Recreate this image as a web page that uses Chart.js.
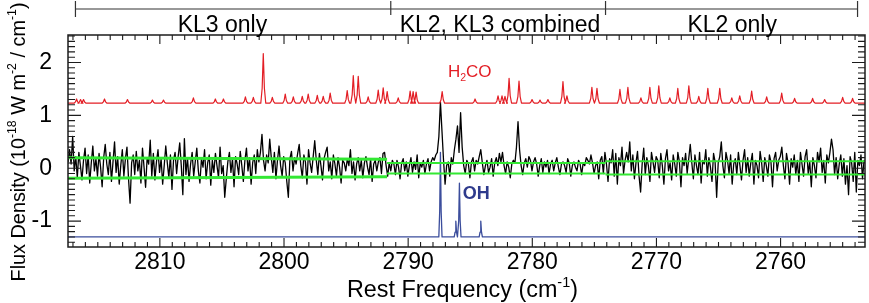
<!DOCTYPE html>
<html>
<head>
<meta charset="utf-8">
<script src="https://cdn.jsdelivr.net/npm/chart.js@4.4.1/dist/chart.umd.min.js"></script>
<style>
html,body{margin:0;padding:0;background:#fff;}
#wrap{width:869px;height:303px;position:relative;}
canvas{display:block;}
</style>
</head>
<body>
<div id="wrap"><canvas id="c" width="869" height="303"></canvas></div>
<script>
// ---------------- data ----------------
const xTickValues = [2810, 2800, 2790, 2780, 2770, 2760];
const yTickValues = [-1, 0, 1, 2];
const xRange = [2753.2, 2817.4];
const yRange = [-1.49, 2.52];

// observed spectrum (flux density, 1e-18 W m^-2 / cm^-1), sampled every 0.125 cm^-1 from 2817.4 downward
const specFreqStart = 2817.4;
const specFreqStep = 0.125;
const specFlux = [
 0.12, 0.35, 0.08, 0.60,-0.05, 0.22,-0.18, 0.30, 0.05,-0.22,
 0.15, 0.38,-0.10, 0.25,-0.28, 0.10, 0.42,-0.05, 0.18,-0.15,
 0.28, 0.02,-0.35, 0.20, 0.45, 0.08,-0.12, 0.30,-0.25, 0.12,
 0.50,-0.08, 0.22,-0.30, 0.05, 0.35,-0.15, 0.18, 0.40,-0.20,
-0.66, 0.10, 0.25,-0.12, 0.32,-0.05, 0.15,-0.28, 0.38, 0.02,
-0.36, 0.20, 0.08, 0.53,-0.15, 0.28,-0.22, 0.12, 0.35,-0.08,
 0.18,-0.30, 0.05, 0.42, 0.10,-0.18, 0.25,-0.40, 0.15, 0.30,
-0.10, 0.22, 0.48, 0.05,-0.50, 0.56,-0.12, 0.20,-0.25, 0.08,
 0.30,-0.15, 0.12, 0.38,-0.05,-0.28, 0.18, 0.02, 0.35,-0.20,
 0.10, 0.25,-0.32, 0.15,-0.08, 0.28, 0.05,-0.18, 0.40,-0.10,
 0.05,-0.55,-0.20, 0.12, 0.30,-0.08, 0.18,-0.35, 0.22, 0.08,
-0.12, 0.32, 0.05,-0.25, 0.15, 0.38,-0.05, 0.20,-0.30, 0.10,
 0.25,-0.10, 0.35, 0.12, 0.30, 0.64, 0.15,-0.05, 0.25, 0.10,
 0.55, 0.20,-0.08, 0.30,-0.20, 0.15, 0.42, 0.05,-0.15, 0.22,
 0.10,-0.25,-0.55, 0.18, 0.32,-0.05, 0.20, 0.08, 0.28, 0.45,
 0.05,-0.18, 0.25, 0.12,-0.30, 0.35, 0.10,-0.08, 0.22, 0.52,
 0.15,-0.12, 0.28, 0.05,-0.22, 0.18, 0.30, 0.40,-0.05, 0.12,
-0.20, 0.25, 0.08,-0.15, 0.20, 0.02,-0.28, 0.15, 0.10,-0.05,
 0.18, 0.05, 0.35,-0.10, 0.12,-0.22, 0.08, 0.20,-0.05, 0.15,
-0.18, 0.10, 0.22, 0.02,-0.12, 0.18,-0.25, 0.08, 0.15,-0.05,
 0.12, 0.20,-0.10, 0.28, 0.30, 0.05,-0.15, 0.10,-0.05, 0.15,
 0.08,-0.12, 0.15, 0.02,-0.20, 0.10, 0.18,-0.05, 0.12,-0.15,
 0.05, 0.20,-0.08, 0.12,-0.02, 0.25,-0.18, 0.10, 0.02, 0.15,
-0.10, 0.08, 0.18,-0.05, 0.12, 0.20, 0.15, 0.25, 0.30, 0.60,
 1.25, 0.70, 0.15,-0.30, 0.05, 0.12,-0.15, 0.20, 0.08, 0.35,
 0.55, 0.80, 0.30, 1.05, 0.40, 0.05,-0.10, 0.15, 0.08,-0.18,
 0.12, 0.20,-0.05, 0.15, 0.08, 0.22, 0.35, 0.10,-0.12, 0.05,
 0.15,-0.08, 0.02, 0.18,-0.15, 0.10, 0.20, 0.05, 0.28, 0.12,
 0.30, 0.05,-0.10, 0.12, 0.02,-0.18, 0.08, 0.15, 0.10, 0.40,
 0.88, 0.35, 0.05,-0.12, 0.10, 0.18, 0.02, 0.22, 0.15,-0.05,
 0.12, 0.20, 0.08,-0.15, 0.05, 0.18,-0.08, 0.12, 0.02, 0.15,
-0.10, 0.08, 0.15,-0.05, 0.10, 0.20, 0.02,-0.12, 0.08, 0.12,
 0.05,-0.08, 0.18, 0.10,-0.15, 0.05, 0.12, 0.02,-0.05, 0.15,
 0.08,-0.12, 0.10, 0.05, 0.20, 0.15, 0.08, 0.25, 0.10,-0.10,
 0.05, 0.12,-0.20, 0.15, 0.22,-0.10, 0.30, 0.08,-0.25, 0.18,
 0.10, 0.35,-0.15, 0.28,-0.30, 0.20, 0.05, 0.40,-0.10, 0.15,
 0.30, 0.12, 0.50,-0.05, 0.25,-0.20, 0.10, 0.32,-0.15,-0.45,
 0.08, 0.38,-0.12, 0.20, 0.05,-0.25, 0.30, 0.12,-0.08, 0.22,
 0.15,-0.18, 0.28, 0.05,-0.30, 0.18, 0.35,-0.05, 0.10,-0.22,
 0.25, 0.08,-0.15, 0.30, 0.12,-0.35, 0.20, 0.05, 0.28,-0.10,
 0.18, 0.45, 0.10,-0.20, 0.25, 0.05,-0.12, 0.30,-0.28, 0.15,
 0.08, 0.35,-0.15, 0.20, 0.02,-0.25, 0.28, 0.12,-0.55, 0.10,
 0.22, 0.50, 0.05,-0.18, 0.30, 0.15,-0.10, 0.25,-0.30, 0.08,
 0.18,-0.12, 0.30, 0.05,-0.22, 0.15, 0.35,-0.08, 0.20,-0.15,
 0.10, 0.28,-0.30, 0.15, 0.05,-0.18, 0.32, 0.10,-0.25, 0.20,
 0.05,-0.15, 0.25, 0.12,-0.35, 0.18, 0.30,-0.05, 0.15, 0.22,
 0.40, 0.05,-0.20, 0.28, 0.10,-0.30, 0.18, 0.02, 0.25,-0.12,
 0.15,-0.25, 0.30, 0.08,-0.15, 0.22, 0.35,-0.10, 0.12,-0.35,
 0.20, 0.05,-0.18, 0.30, 0.12, 0.38,-0.08, 0.15,-0.28, 0.25,
 0.10, 0.30, 0.55, 0.35,-0.12, 0.20,-0.20, 0.08, 0.25,-0.15,
 0.18,-0.30, 0.05,-0.50, 0.22, 0.10,-0.25, 0.30,-0.45, 0.15,
 0.05, 0.25,-0.20, 0.15, 0.10,-0.10, 0.20, 0.05,-0.15, 0.10
];

// H2CO model (offset), line centres and peak values
const h2coBase = 1.23;
const h2coLineFreq = [2816.71,2816.39,2816.15,2814.46,2812.61,2810.60,2809.71,2807.30,2805.53,2804.88,
  2803.11,2802.47,2801.67,2800.94,2799.90,2799.25,2798.53,2798.05,2797.32,2796.84,2796.28,2794.91,
  2794.42,2794.02,2793.22,2792.41,2792.01,2791.69,2790.80,2789.84,2789.60,2789.36,2787.26,2784.61,
  2782.76,2782.44,2782.20,2781.87,2781.07,2780.02,2779.38,2778.74,2777.53,2777.21,2775.20,2774.79,
  2772.94,2772.30,2771.25,2770.53,2769.81,2768.92,2768.28,2767.39,2766.59,2765.86,2764.90,2763.93,
  2763.29,2762.33,2761.12,2759.91,2758.87,2757.42,2756.45,2755.00,2754.20];
const h2coLinePeak = [1.31,1.30,1.30,1.31,1.30,1.29,1.29,1.33,1.31,1.31,
  1.35,1.34,2.17,1.34,1.40,1.35,1.36,1.40,1.38,1.36,1.42,1.47,
  1.75,1.74,1.35,1.48,1.52,1.45,1.33,1.46,1.45,1.44,1.45,1.31,
  1.37,1.37,1.36,1.70,1.65,1.30,1.29,1.30,1.64,1.37,1.53,1.51,
  1.49,1.53,1.33,1.53,1.56,1.33,1.51,1.56,1.36,1.51,1.51,1.33,
  1.37,1.46,1.35,1.42,1.32,1.32,1.30,1.34,1.32];

// OH model (offset)
const ohBase = -1.30;
const ohLineFreq = [2787.40, 2786.16, 2785.87, 2784.15];
const ohLinePeak = [0.30, -1.00, -0.28, -1.00];

// noise (1 sigma) levels per region
const sigmaKL3Freq = [2817.4, 2791.7];
const sigmaKL3Upper = [0.20, 0.17];
const sigmaKL3Lower = [-0.19, -0.16];
const sigmaCombFreq = [2791.7, 2774.1];
const sigmaCombUpper = [0.10, 0.10];
const sigmaCombLower = [-0.10, -0.10];
const sigmaKL2Freq = [2774.1, 2753.2];
const sigmaKL2Upper = [0.13, 0.13];
const sigmaKL2Lower = [-0.12, -0.12];

// region bracket on top
const bracketFreq = [2816.8, 2791.4, 2774.1, 2753.8];
const regionLabels = ['KL3 only', 'KL2, KL3 combined', 'KL2 only'];
const regionLabelFreq = [2804.96, 2782.6, 2763.9];

// annotation positions (data coordinates)
const h2coLabelPos = {x: 2786.8, y: 1.73};
const ohLabelPos = {x: 2785.6, y: -0.59};

// ---------------- build series ----------------
const specPoints = specFlux.map((v, i) => ({x: specFreqStart - i * specFreqStep, y: v}));
function lineModel(base, freqs, peaks, hw, from, to) {
  const idx = freqs.map((f, i) => i).sort((a, b) => freqs[b] - freqs[a]);
  const pts = [{x: from, y: base}];
  idx.forEach(i => {
    const amp = peaks[i] - base;
    pts.push({x: freqs[i] + hw, y: base});
    pts.push({x: freqs[i] + hw * 0.45, y: base + amp * 0.3});
    pts.push({x: freqs[i], y: peaks[i]});
    pts.push({x: freqs[i] - hw * 0.45, y: base + amp * 0.3});
    pts.push({x: freqs[i] - hw, y: base});
  });
  pts.push({x: to, y: base});
  return pts;
}
const h2coPoints = lineModel(h2coBase, h2coLineFreq, h2coLinePeak, 0.2, xRange[1], xRange[0]);
const ohPoints = lineModel(ohBase, ohLineFreq, ohLinePeak, 0.13, xRange[1], xRange[0]);
const pair = (fs, vs) => fs.map((f, i) => ({x: f, y: vs[i]}));

const GREEN = '#33e833', RED = '#e31e25', BLUE = '#3b4d9c', NAVY = '#2e3a8c';
const FONT = "'Liberation Sans', Arial, Helvetica, sans-serif";

function ds(data, color, width, order) {
  return {data, borderColor: color, borderWidth: width, pointRadius: 0, tension: 0,
          fill: false, order, borderJoinStyle: 'round'};
}

// ---------------- rich text helper ----------------
function drawRich(ctx, parts, x, y, size, align, fitWidth, color) {
  ctx.save();
  ctx.fillStyle = color || '#000';
  ctx.textBaseline = 'alphabetic';
  ctx.textAlign = 'left';
  const widths = parts.map(p => {
    const s = p.s ? size * 0.62 : size;
    ctx.font = (p.b ? 'bold ' : '') + s + 'px ' + FONT;
    return ctx.measureText(p.t).width;
  });
  const total = widths.reduce((a, b) => a + b, 0);
  const sc = fitWidth ? fitWidth / total : 1;
  ctx.translate(x, y);
  ctx.scale(sc, 1);
  let cx = align === 'center' ? -total / 2 : 0;
  parts.forEach((p, i) => {
    const s = p.s ? size * 0.62 : size;
    ctx.font = (p.b ? 'bold ' : '') + s + 'px ' + FONT;
    const dy = p.s === 1 ? -size * 0.42 : (p.s === -1 ? size * 0.22 : 0);
    ctx.fillText(p.t, cx, dy);
    cx += widths[i];
  });
  ctx.restore();
}

const framePlugin = {
  id: 'frame',
  afterDatasetsDraw(chart) {
    const {ctx, chartArea: a, scales: {x, y}} = chart;
    ctx.save();
    ctx.strokeStyle = '#1c1c1c';
    ctx.lineWidth = 1.5;
    ctx.strokeRect(a.left, a.top, a.right - a.left, a.bottom - a.top);
    ctx.lineWidth = 1.1;
    ctx.beginPath();
    for (let f = Math.ceil(x.min); f <= x.max; f++) {
      const px = x.getPixelForValue(f);
      const len = f % 10 === 0 ? 9 : 5;
      ctx.moveTo(px, a.bottom); ctx.lineTo(px, a.bottom - len);
      ctx.moveTo(px, a.top); ctx.lineTo(px, a.top + len);
    }
    for (let k = Math.ceil(y.min * 10); k <= Math.floor(y.max * 10); k++) {
      const py = y.getPixelForValue(k / 10);
      const len = k % 10 === 0 ? 13 : 7;
      ctx.moveTo(a.left, py); ctx.lineTo(a.left + len, py);
      ctx.moveTo(a.right, py); ctx.lineTo(a.right - len, py);
    }
    ctx.stroke();

    // region bracket
    ctx.lineWidth = 1.2;
    ctx.strokeStyle = '#333';
    ctx.beginPath();
    const bx = bracketFreq.map(f => x.getPixelForValue(f));
    ctx.moveTo(bx[0], 9); ctx.lineTo(bx[bx.length - 1], 9);
    bx.forEach((p, i) => {
      const end = (i === 0 || i === bx.length - 1);
      ctx.moveTo(p, 1); ctx.lineTo(p, end ? 17 : 15);
    });
    ctx.stroke();
    ctx.fillStyle = '#000';
    ctx.font = '23px ' + FONT;
    ctx.textAlign = 'center';
    ctx.textBaseline = 'alphabetic';
    regionLabels.forEach((t, i) => ctx.fillText(t, x.getPixelForValue(regionLabelFreq[i]), 32));
    ctx.restore();

    // molecule labels
    drawRich(ctx, [{t: 'H'}, {t: '2', s: -1}, {t: 'CO'}],
      x.getPixelForValue(h2coLabelPos.x), y.getPixelForValue(h2coLabelPos.y), 17, 'left', null, RED);
    drawRich(ctx, [{t: 'OH', b: 1}],
      x.getPixelForValue(ohLabelPos.x), y.getPixelForValue(ohLabelPos.y), 18, 'left', null, NAVY);

    // axis titles
    drawRich(ctx, [{t: 'Rest Frequency (cm'}, {t: '-1', s: 1}, {t: ')'}],
      (a.left + a.right) / 2 - 4, 297, 23, 'center', 231, '#000');
    ctx.save();
    ctx.translate(25, (a.top + a.bottom) / 2 + 1);
    ctx.rotate(-Math.PI / 2);
    drawRich(ctx, [{t: 'Flux Density (10'}, {t: '-18', s: 1}, {t: ' W m'}, {t: '-2', s: 1},
      {t: ' / cm'}, {t: '-1', s: 1}, {t: ')'}], 0, 0, 21, 'center', 279, '#000');
    ctx.restore();
  }
};

Chart.defaults.font.family = FONT;

new Chart(document.getElementById('c'), {
  type: 'line',
  data: {
    datasets: [
      ds(pair(sigmaKL3Freq, sigmaKL3Upper), GREEN, 3, 0),
      ds(pair(sigmaKL3Freq, sigmaKL3Lower), GREEN, 3, 0),
      ds(pair(sigmaCombFreq, sigmaCombUpper), GREEN, 2, 0),
      ds(pair(sigmaCombFreq, sigmaCombLower), GREEN, 2, 0),
      ds(pair(sigmaKL2Freq, sigmaKL2Upper), GREEN, 2, 0),
      ds(pair(sigmaKL2Freq, sigmaKL2Lower), GREEN, 2, 0),
      ds(h2coPoints, RED, 1.2, 1),
      ds(specPoints, '#000', 1.3, 2),
      ds(ohPoints, BLUE, 1.3, 3)
    ]
  },
  options: {
    responsive: false,
    animation: false,
    devicePixelRatio: 1,
    layout: {padding: {left: 0, right: 4, top: 35, bottom: 0}},
    plugins: {legend: {display: false}, tooltip: {enabled: false}},
    scales: {
      x: {
        type: 'linear', reverse: true, min: xRange[0], max: xRange[1],
        grid: {display: false}, border: {display: false},
        afterBuildTicks: s => { s.ticks = xTickValues.map(v => ({value: v})); },
        afterFit: s => { s.height = 56; },
        ticks: {font: {size: 23}, color: '#000', padding: -6, maxRotation: 0, autoSkip: false,
                callback: v => String(v)}
      },
      y: {
        type: 'linear', min: yRange[0], max: yRange[1],
        grid: {display: false}, border: {display: false},
        afterBuildTicks: s => { s.ticks = yTickValues.map(v => ({value: v})); },
        afterFit: s => { s.width = 68; },
        ticks: {font: {size: 23}, color: '#000', padding: 8, callback: v => String(v)}
      }
    }
  },
  plugins: [framePlugin]
});
</script>
</body>
</html>
